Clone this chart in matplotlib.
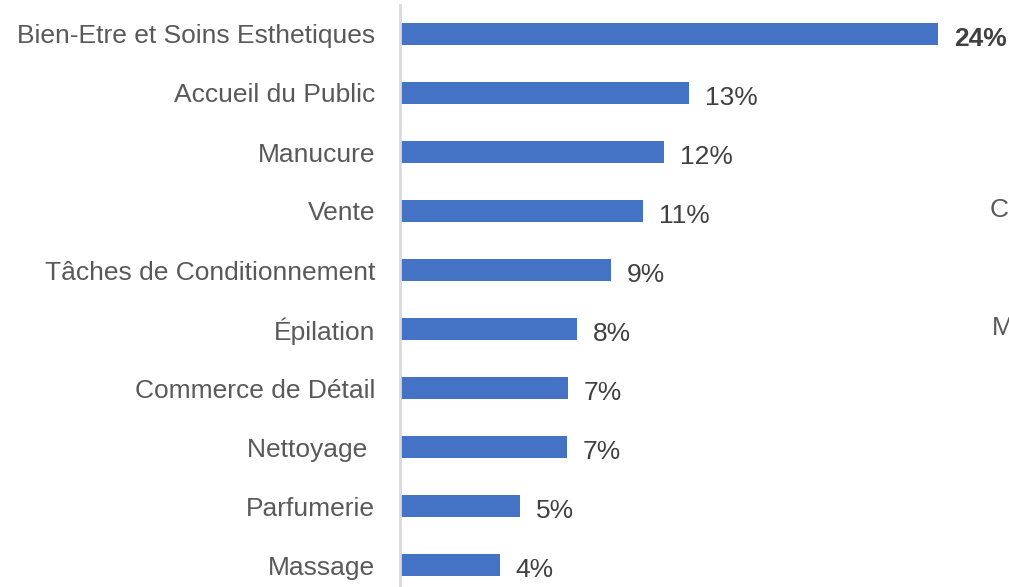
import matplotlib.pyplot as plt

# Données
categories = [
    "Bien-Etre et Soins Esthetiques",
    "Accueil du Public",
    "Manucure",
    "Vente",
    "Tâches de Conditionnement",
    "Épilation",
    "Commerce de Détail",
    "Nettoyage ",
    "Parfumerie",
    "Massage",
]
valeurs = [24.0, 12.9, 11.8, 10.85, 9.4, 7.9, 7.5, 7.45, 5.35, 4.45]
etiquettes = ["24%", "13%", "12%", "11%", "9%", "8%", "7%", "7%", "5%", "4%"]

plt.rcParams["font.family"] = ["Liberation Sans", "DejaVu Sans"]

fig = plt.figure(figsize=(10.09, 5.87), dpi=100)
ax = fig.add_axes([400 / 1009, 0, 605 / 1009, 1])

positions = list(range(len(categories)))
ax.barh(positions, valeurs, height=0.37, color="#4472C4")

ax.set_xlim(0, 27)
ax.set_ylim((587 - 34) / 59, -34 / 59)

ax.set_yticks(positions)
ax.set_yticklabels(categories, fontsize=19, color="#595959")
ax.tick_params(axis="y", length=0, pad=18)
ax.set_xticks([])

for s in ax.spines.values():
    s.set_visible(False)

# axe vertical gris clair
ax.plot([0, 0], [0, 1 - 5 / 587], transform=ax.get_xaxis_transform(),
        color="#D9D9D9", lw=2, clip_on=False)

for i, (v, lab) in enumerate(zip(valeurs, etiquettes)):
    ax.annotate(lab, (v, i), xytext=(11.5, -3.5), textcoords="offset points",
                va="center", ha="left", fontsize=19,
                color="#404040", fontweight="bold" if i == 0 else "normal")

# lettres coupées au bord droit (texte d'un autre élément)
fig.text(990 / 1009, 1 - 210 / 587, "C", fontsize=19, color="#595959", va="center")
fig.text(992 / 1009, 1 - 328 / 587, "M", fontsize=19, color="#595959", va="center")

fig.savefig("out.png", dpi=100)
